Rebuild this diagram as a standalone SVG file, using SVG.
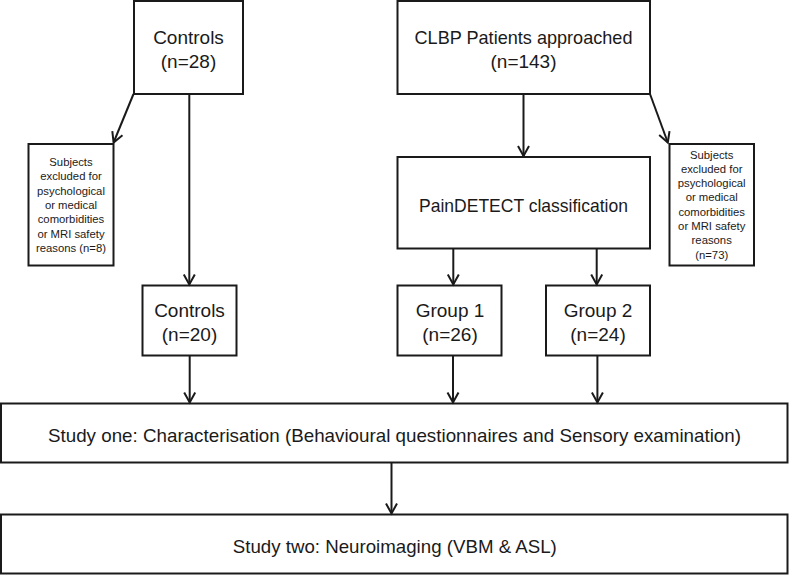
<svg xmlns="http://www.w3.org/2000/svg" width="789" height="575" viewBox="0 0 789 575">
<style>
.box{fill:#fff;stroke:#1a1a1a;stroke-width:2}
.t{font-family:"Liberation Sans",Arial,sans-serif;font-size:19px;fill:#1a1a1a;text-anchor:middle}
.s{font-family:"Liberation Sans",Arial,sans-serif;font-size:11.3px;fill:#1a1a1a;text-anchor:middle}
.c{fill:none;stroke:#1a1a1a;stroke-width:2;marker-end:url(#ah)}
</style>
<defs>
<marker id="ah" markerUnits="userSpaceOnUse" markerWidth="16" markerHeight="16" viewBox="-12 -8 14 16" refX="0" refY="0" orient="auto">
<path d="M-10,-5.5 L0,0 L-10,5.5" fill="none" stroke="#1a1a1a" stroke-width="2"/>
</marker>
</defs>
<rect width="789" height="575" fill="#fff"/>
<g id="controls28">
<rect class="box" x="134" y="1" width="109" height="93"/>
<text class="t" x="188.5" y="44">Controls</text>
<text class="t" x="188.5" y="68">(n=28)</text>
</g>
<g id="clbp">
<rect class="box" x="397.5" y="1" width="252.5" height="93"/>
<text class="t" x="523.5" y="44" textLength="218" lengthAdjust="spacingAndGlyphs">CLBP Patients approached</text>
<text class="t" x="523.5" y="68">(n=143)</text>
</g>
<g id="excl-left">
<rect class="box" x="28.5" y="144" width="85" height="121.5"/>
<text class="s" x="71" y="166">Subjects</text>
<text class="s" x="71" y="180.3">excluded for</text>
<text class="s" x="71" y="194.6">psychological</text>
<text class="s" x="71" y="208.9">or medical</text>
<text class="s" x="71" y="223.2">comorbidities</text>
<text class="s" x="71" y="237.5">or MRI safety</text>
<text class="s" x="71" y="251.8">reasons (n=8)</text>
</g>
<g id="paindetect">
<rect class="box" x="397.5" y="157" width="252.5" height="91.5"/>
<text class="t" x="523.5" y="211.5" textLength="209" lengthAdjust="spacingAndGlyphs">PainDETECT classification</text>
</g>
<g id="excl-right">
<rect class="box" x="669.5" y="144" width="84.5" height="121.5"/>
<text class="s" x="711.7" y="158.5">Subjects</text>
<text class="s" x="711.7" y="172.8">excluded for</text>
<text class="s" x="711.7" y="187.1">psychological</text>
<text class="s" x="711.7" y="201.4">or medical</text>
<text class="s" x="711.7" y="215.7">comorbidities</text>
<text class="s" x="711.7" y="230">or MRI safety</text>
<text class="s" x="711.7" y="244.3">reasons</text>
<text class="s" x="711.7" y="258.6">(n=73)</text>
</g>
<g id="controls20">
<rect class="box" x="142.5" y="285.5" width="94" height="70"/>
<text class="t" x="189.5" y="316.7">Controls</text>
<text class="t" x="189.5" y="341">(n=20)</text>
</g>
<g id="group1">
<rect class="box" x="397.5" y="285.5" width="104" height="70"/>
<text class="t" x="450" y="316.7">Group 1</text>
<text class="t" x="450" y="341">(n=26)</text>
</g>
<g id="group2">
<rect class="box" x="546" y="285.5" width="104" height="70"/>
<text class="t" x="598" y="316.7">Group 2</text>
<text class="t" x="598" y="341">(n=24)</text>
</g>
<g id="study1">
<rect class="box" x="1" y="403.5" width="786.5" height="59"/>
<text class="t" x="394.5" y="441.5" textLength="693" lengthAdjust="spacingAndGlyphs">Study one: Characterisation (Behavioural questionnaires and Sensory examination)</text>
</g>
<g id="study2">
<rect class="box" x="1" y="514.5" width="786.5" height="59"/>
<text class="t" x="394.8" y="552.5" textLength="324" lengthAdjust="spacingAndGlyphs">Study two: Neuroimaging (VBM &amp; ASL)</text>
</g>
<g id="connectors">
<line class="c" x1="133.5" y1="94" x2="113.6" y2="142.5"/>
<line class="c" x1="189.3" y1="94" x2="189.3" y2="284.5"/>
<line class="c" x1="523.5" y1="94" x2="523.5" y2="156"/>
<line class="c" x1="650" y1="94" x2="667.8" y2="142.5"/>
<line class="c" x1="453.3" y1="248.5" x2="453.3" y2="284.5"/>
<line class="c" x1="596.7" y1="248.5" x2="596.7" y2="284.5"/>
<line class="c" x1="189.7" y1="355.5" x2="189.7" y2="402.5"/>
<line class="c" x1="453" y1="355.5" x2="453" y2="402.5"/>
<line class="c" x1="597.4" y1="355.5" x2="597.4" y2="402.5"/>
<line class="c" x1="391.5" y1="462.5" x2="391.5" y2="513.5"/>
</g>
</svg>
